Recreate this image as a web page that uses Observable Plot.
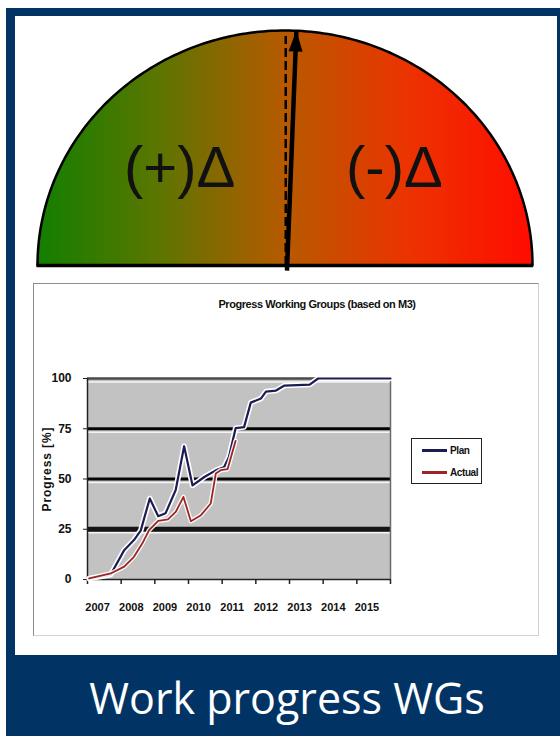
<!DOCTYPE html>
<html>
<head>
<meta charset="utf-8">
<script src="https://cdn.jsdelivr.net/npm/d3@7"></script>
<script src="https://cdn.jsdelivr.net/npm/@observablehq/plot@0.6"></script>
<style>
  html, body { margin: 0; padding: 0; background: #fff; }
  #wrap { position: relative; width: 560px; height: 736px; overflow: hidden; background: #fff; }
  .blue { position: absolute; background: #013465; }
  .abs { position: absolute; }
  #chartbox { position: absolute; left: 33px; top: 283px; width: 506px; height: 353px;
    border-top: 1.5px solid #8c8c8c; border-left: 1.5px solid #8c8c8c;
    border-right: 1.5px solid #d2d2d2; border-bottom: 1.5px solid #d2d2d2; box-sizing: border-box; }
  .narrow { font-family: "Liberation Sans", Arial, sans-serif; color: #111; }
  #ctitle { left: 317px; top: 298px; transform: translateX(-50%); font-size: 11px; font-weight: bold; white-space: nowrap; letter-spacing: -0.45px; }
  #ylabel { left: 47px; top: 469px; transform: translate(-50%, -50%) rotate(-90deg); font-size: 12px; font-weight: bold; white-space: nowrap; letter-spacing: 0.9px; }
  #legend { left: 411px; top: 438px; width: 71px; height: 46px; border: 1.5px solid #222; box-sizing: border-box; background: #fff; }
  .leg { position: absolute; left: 10px; font-size: 10px; font-weight: bold; display: flex; align-items: center; white-space: nowrap; letter-spacing: -0.4px; }
  .leg span.sw { display: inline-block; width: 25px; height: 2.5px; margin-right: 3px; }
  #footer { left: 287px; top: 697px; transform: translate(-50%, -50%); color: #fff; font-family: "Open Sans", "Noto Sans", sans-serif; font-size: 43px; white-space: nowrap; }
</style>
</head>
<body>
<div id="wrap">
  <div class="blue" style="left:6px;top:8px;width:554px;height:8px;"></div>
  <div class="blue" style="left:6px;top:8px;width:9px;height:728px;"></div>
  <div class="blue" style="left:557px;top:8px;width:3px;height:728px;"></div>
  <div class="blue" style="left:6px;top:655px;width:554px;height:81px;"></div>
  <div id="gauge" class="abs" style="left:0;top:0;"></div>
  <div id="chartbox"></div>
  <div id="chart" class="abs" style="left:33px;top:283px;"></div>
  <div id="ctitle" class="abs narrow"></div>
  <div id="ylabel" class="abs narrow"></div>
  <div id="legend" class="abs narrow"></div>
  <div id="footer" class="abs"></div>
</div>
<script>
// ---------- data ----------
const chartTitle = "Progress Working Groups (based on M3)";
const yAxisLabel = "Progress [%]";
const footerText = "Work progress WGs";
const seriesNames = ["Plan", "Actual"];
const seriesColors = ["#1c1c55", "#9e2424"];

const yearLabels = [2007, 2008, 2009, 2010, 2011, 2012, 2013, 2014, 2015];
const yTicks = [0, 25, 50, 75, 100];

const planYears = [2006.75, 2007.1, 2007.39, 2007.79, 2008.08, 2008.28, 2008.55, 2008.8, 2009.02, 2009.32, 2009.57, 2009.82, 2010.17, 2010.51, 2010.76, 2010.9, 2011.1, 2011.35, 2011.55, 2011.85, 2012.0, 2012.3, 2012.55, 2013.3, 2013.55, 2015.7];
const planValues = [0.5, 1.5, 2.5, 14.6, 19.6, 24.3, 40.3, 31.5, 33, 44.5, 66.3, 46.8, 51, 54.3, 56, 61, 75.3, 75.8, 88, 90, 93.5, 94, 96.5, 97, 100, 100];
const actualYears = [2006.75, 2007.39, 2007.79, 2008.08, 2008.33, 2008.53, 2008.8, 2009.09, 2009.32, 2009.55, 2009.77, 2010.07, 2010.36, 2010.51, 2010.66, 2010.86, 2011.1];
const actualValues = [0.5, 3, 6.4, 11.3, 18, 24.6, 29.2, 29.9, 33.6, 41.1, 29, 32, 37.8, 52.7, 54.4, 54.9, 69];

// gauge
const gaugeLabels = ["(+)Δ", "(-)Δ"];
const gaugeLabelX = [-0.426, 0.442];
const gaugeLabelY = [0.413, 0.413];
const needleBase = [0.008, -0.022];
const needleTip = [0.046, 1.0];
const referenceX = 0.003;

// ---------- chart ----------
const plan = planYears.map((t, i) => ({t, v: planValues[i]}));
const actual = actualYears.map((t, i) => ({t, v: actualValues[i]}));
const xStart = yearLabels[0] - 0.3;
const xEnd = yearLabels[yearLabels.length - 1] + 0.7;
const edges = yearLabels.map(y => y - 0.3).concat([xEnd]);
const chartFont = '"Liberation Sans", Arial, sans-serif';

const chart = Plot.plot({
  width: 508, height: 355,
  marginLeft: 54, marginRight: 151, marginTop: 95, marginBottom: 59,
  x: {domain: [xStart, xEnd], axis: null, label: null},
  y: {domain: [0, 100], axis: null, label: null},
  style: {background: "transparent", fontFamily: chartFont, color: "#111", overflow: "visible"},
  marks: [
    Plot.frame({fill: "#c2c2c2", stroke: null}),
    Plot.ruleY([25, 50, 75, 100], {stroke: "#f4f4f4", strokeWidth: 1.6, dy: 3.5}),
    Plot.ruleY([50, 75], {stroke: "#050505", strokeWidth: 3}),
    Plot.ruleY([25], {stroke: "#151515", strokeWidth: 5}),
    Plot.ruleY([100], {stroke: "#4a4a4a", strokeWidth: 2.5}),
    Plot.ruleX([xEnd], {stroke: "#6a6a6a", strokeWidth: 1.5}),
    Plot.ruleX([xStart], {stroke: "#222", strokeWidth: 1.5}),
    Plot.ruleY([0], {stroke: "#222", strokeWidth: 1.5}),
    Plot.axisX(edges, {tickSize: 5, tickFormat: () => "", label: null, stroke: "#222", strokeWidth: 1.5}),
    Plot.axisX(yearLabels, {tickSize: 0, tickPadding: 24, label: null, tickFormat: d => String(d), fontSize: 11, fontWeight: "bold", letterSpacing: "-0.6px"}),
    Plot.axisY(yTicks, {tickSize: 4, tickPadding: 12, label: null, fontSize: 12, fontWeight: "bold", letterSpacing: "-0.6px", stroke: "#222"}),
    Plot.line(plan, {x: "t", y: "v", stroke: "#fff", strokeWidth: 5.5}),
    Plot.line(plan, {x: "t", y: "v", stroke: seriesColors[0], strokeWidth: 2.2}),
    Plot.line(actual, {x: "t", y: "v", stroke: "#fff", strokeWidth: 4.5, strokeOpacity: 0.9}),
    Plot.line(actual, {x: "t", y: "v", stroke: seriesColors[1], strokeWidth: 1.8})
  ]
});
document.getElementById("chart").appendChild(chart);

document.getElementById("ctitle").textContent = chartTitle;
document.getElementById("ylabel").textContent = yAxisLabel;
document.getElementById("footer").textContent = footerText;
const legend = document.getElementById("legend");
seriesNames.forEach((name, i) => {
  const row = document.createElement("div");
  row.className = "leg";
  row.style.top = (6 + i * 22) + "px";
  row.innerHTML = `<span class="sw" style="background:${seriesColors[i]}"></span>${name}`;
  legend.appendChild(row);
});

// ---------- gauge ----------
const arc = d3.range(180, -1, -1).map(d => ({x: Math.cos(d * Math.PI / 180), y: Math.sin(d * Math.PI / 180)}));
const labels = gaugeLabels.map((text, i) => ({text, x: gaugeLabelX[i], y: gaugeLabelY[i]}));
const needle = [{x1: needleBase[0], y1: needleBase[1], x2: needleTip[0], y2: needleTip[1]}];
const headSymbol = {draw(ctx) { ctx.moveTo(0, -13); ctx.lineTo(7, 8); ctx.lineTo(-7, 8); ctx.closePath(); }};
const pxX = 247.5, pxY = 235;
const ndx = (needleTip[0] - needleBase[0]) * pxX, ndy = (needleTip[1] - needleBase[1]) * pxY;
const nlen = Math.hypot(ndx, ndy);
const headCenter = [{
  x: needleTip[0] - (13 * ndx / nlen) / pxX,
  y: needleTip[1] - (13 * ndy / nlen) / pxY,
  a: Math.atan2(ndx, ndy) * 180 / Math.PI
}];

const gauge = Plot.plot({
  width: 560, height: 280,
  marginLeft: 37, marginRight: 28, marginTop: 30, marginBottom: 15,
  x: {domain: [-1, 1], axis: null},
  y: {domain: [0, 1], axis: null},
  style: {background: "transparent", overflow: "visible"},
  marks: [
    Plot.areaY(arc, {x: "x", y: "y", fill: "url(#gaugeGrad)"}),
    Plot.line(arc, {x: "x", y: "y", stroke: "#000", strokeWidth: 2.5}),
    Plot.ruleY([0], {x1: -1.002, x2: 1.004, stroke: "#000", strokeWidth: 3.5}),
    Plot.ruleX([referenceX], {y1: 0, y2: 0.975, stroke: "#000", strokeWidth: 2.5, strokeDasharray: "9,4"}),
    Plot.link(needle, {x1: "x1", y1: "y1", x2: "x2", y2: "y2", stroke: "#000", strokeWidth: 4.5}),
    Plot.dot(headCenter, {x: "x", y: "y", symbol: headSymbol, rotate: "a", fill: "#000", stroke: null, r: 9}),
    Plot.text(labels, {x: "x", y: "y", text: "text", fontSize: 58, fill: "#111",
      fontFamily: '"Liberation Sans", Arial, sans-serif'})
  ]
});
const defs = d3.select(gauge).insert("defs", ":first-child");
const grad = defs.append("linearGradient").attr("id", "gaugeGrad").attr("x1", "0%").attr("x2", "100%").attr("y1", "0%").attr("y2", "0%");
[[0, "#127f00"], [0.25, "#5d7500"], [0.5, "#b65a00"], [0.75, "#ec3300"], [1, "#ff0c00"]].forEach(([o, c]) =>
  grad.append("stop").attr("offset", o).attr("stop-color", c));
document.getElementById("gauge").appendChild(gauge);
</script>
</body>
</html>
